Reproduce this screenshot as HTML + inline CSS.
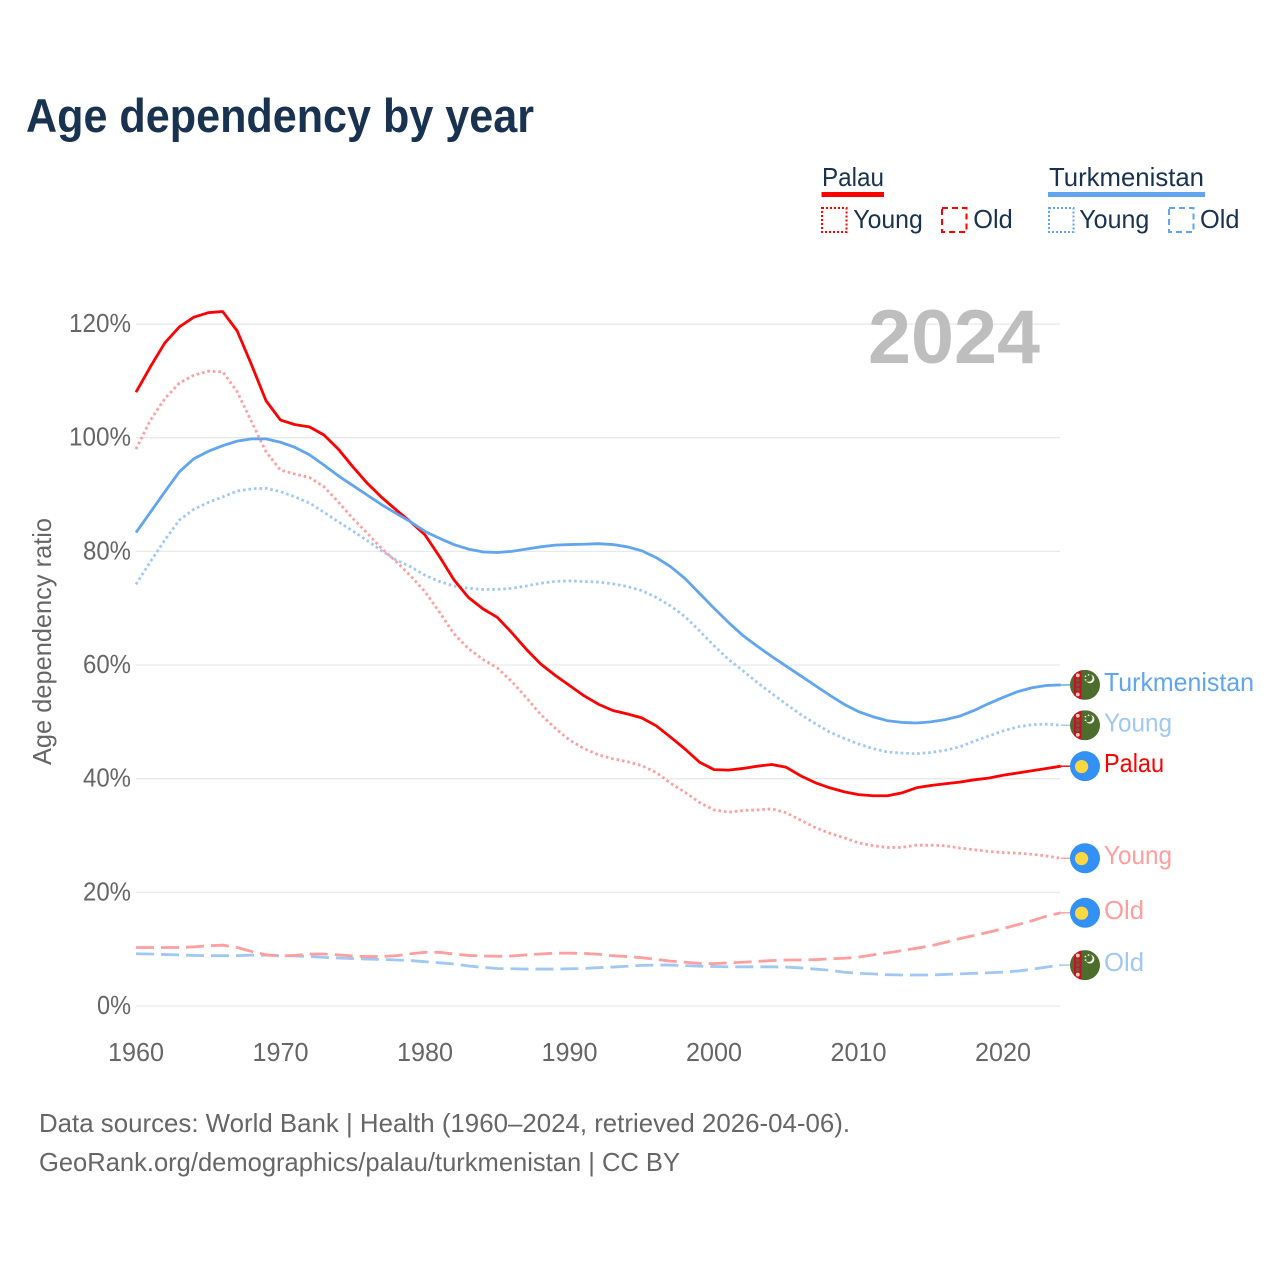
<!DOCTYPE html>
<html lang="en">
<head>
<meta charset="utf-8">
<title>Age dependency by year</title>
<style>
html,body{margin:0;padding:0;background:#fff;}
svg{display:block;font-family:"Liberation Sans",sans-serif;}
</style>
</head>
<body>
<svg id="chart" xmlns="http://www.w3.org/2000/svg" width="1280" height="1280" viewBox="0 0 1280 1280">
  <text x="26" y="132" font-size="47" font-weight="700" fill="#18324f" textLength="508" lengthAdjust="spacingAndGlyphs">Age dependency by year</text>

  <g font-size="26" fill="#18324f">
    <text x="822" y="186" textLength="62" lengthAdjust="spacingAndGlyphs">Palau</text>
    <rect x="821.5" y="192" width="62.5" height="5" fill="#ff0000"/>
    <rect x="822" y="208" width="24.5" height="24" fill="none" stroke="#ff0000" stroke-width="2" stroke-dasharray="2 2"/>
    <text x="853.3" y="228" textLength="69.5" lengthAdjust="spacingAndGlyphs">Young</text>
    <rect x="942" y="208" width="24.5" height="24" fill="none" stroke="#ff0000" stroke-width="2" stroke-dasharray="6 4"/>
    <text x="973.3" y="228" textLength="39.5" lengthAdjust="spacingAndGlyphs">Old</text>

    <text x="1049" y="186" textLength="155" lengthAdjust="spacingAndGlyphs">Turkmenistan</text>
    <rect x="1048" y="192" width="157" height="5" fill="#60a5ee"/>
    <rect x="1049" y="208" width="24.5" height="24" fill="none" stroke="#60a5ee" stroke-width="2" stroke-dasharray="2 2"/>
    <text x="1079.3" y="228" textLength="70" lengthAdjust="spacingAndGlyphs">Young</text>
    <rect x="1169" y="208" width="24.5" height="24" fill="none" stroke="#60a5ee" stroke-width="2" stroke-dasharray="6 4"/>
    <text x="1200" y="228" textLength="39.5" lengthAdjust="spacingAndGlyphs">Old</text>
  </g>

  <g id="grid"></g>
  <g id="yticks" font-size="26" fill="#666666"></g>
  <g id="xticks" font-size="26" fill="#666666"></g>

  <text transform="translate(51,765) rotate(-90)" font-size="26" fill="#666666" textLength="247" lengthAdjust="spacingAndGlyphs">Age dependency ratio</text>

  <text x="868" y="363" font-size="76" font-weight="700" fill="#bebebe" textLength="172" lengthAdjust="spacingAndGlyphs">2024</text>

  <g id="series"></g>
  <g id="endlabels" font-size="26"></g>

  <g font-size="26" fill="#666666">
    <text x="39" y="1132" textLength="811" lengthAdjust="spacingAndGlyphs">Data sources: World Bank | Health (1960–2024, retrieved 2026-04-06).</text>
    <text x="39" y="1171" textLength="641" lengthAdjust="spacingAndGlyphs">GeoRank.org/demographics/palau/turkmenistan | CC BY</text>
  </g>
</svg>

<script>
const years = [1960,1961,1962,1963,1964,1965,1966,1967,1968,1969,1970,1971,1972,1973,1974,1975,1976,1977,1978,1979,
  1980,1981,1982,1983,1984,1985,1986,1987,1988,1989,1990,1991,1992,1993,1994,1995,1996,1997,1998,1999,
  2000,2001,2002,2003,2004,2005,2006,2007,2008,2009,2010,2011,2012,2013,2014,2015,2016,2017,2018,2019,
  2020,2021,2022,2023,2024];

const palauTotal = [108.0,112.5,116.7,119.5,121.2,122.0,122.2,118.8,112.8,106.5,103.1,102.3,101.9,100.5,98.0,94.9,92.0,89.5,87.3,85.2,
  82.9,79.1,75.0,71.9,69.9,68.4,65.7,62.8,60.2,58.2,56.4,54.6,53.1,52.0,51.4,50.7,49.3,47.3,45.2,42.9,
  41.6,41.5,41.8,42.2,42.5,42.0,40.5,39.3,38.4,37.7,37.2,37.0,37.0,37.5,38.4,38.8,39.1,39.4,39.8,40.1,
  40.6,41.0,41.4,41.8,42.2];

const palauYoung = [98.0,103.1,106.9,109.6,111.0,111.7,111.6,108.1,102.8,97.5,94.3,93.6,93.0,91.4,88.7,85.8,83.2,80.5,78.2,75.7,
  72.9,69.3,65.5,62.9,61.0,59.5,57.1,54.3,51.3,48.9,46.8,45.3,44.2,43.5,43.0,42.3,41.1,39.2,37.6,35.8,
  34.5,34.1,34.4,34.5,34.7,34.0,32.7,31.4,30.4,29.6,28.7,28.2,27.9,27.9,28.3,28.3,28.2,27.8,27.5,27.2,
  27.0,26.9,26.7,26.4,26.0];

const palauOld = [10.3,10.3,10.3,10.3,10.4,10.6,10.7,10.3,9.6,9.0,8.8,8.9,9.15,9.15,9.0,8.8,8.7,8.7,8.85,9.2,
  9.45,9.45,9.15,8.9,8.8,8.75,8.8,9.0,9.15,9.3,9.3,9.25,9.1,8.85,8.7,8.5,8.2,7.9,7.7,7.5,
  7.45,7.6,7.7,7.85,8.0,8.1,8.1,8.15,8.3,8.4,8.6,9.0,9.35,9.75,10.15,10.6,11.2,11.85,12.4,13.0,
  13.6,14.3,15.0,15.8,16.4];

const turkmenistanTotal = [83.3,86.9,90.5,94.0,96.3,97.6,98.6,99.4,99.8,99.8,99.2,98.3,97.0,95.2,93.3,91.6,89.9,88.2,86.7,85.2,
  83.5,82.3,81.2,80.4,79.9,79.8,80.0,80.4,80.8,81.1,81.2,81.25,81.35,81.2,80.8,80.1,78.9,77.3,75.2,72.6,
  70.0,67.5,65.2,63.3,61.5,59.8,58.1,56.4,54.7,53.1,51.8,50.9,50.2,49.9,49.8,50.0,50.4,51.0,52.0,53.2,
  54.3,55.3,56.0,56.4,56.5];

const turkmenistanYoung = [74.2,78.2,82.0,85.5,87.4,88.6,89.6,90.6,91.0,91.1,90.5,89.6,88.5,86.9,85.2,83.6,81.9,80.1,78.5,77.3,
  75.8,74.7,73.9,73.5,73.3,73.3,73.5,73.9,74.4,74.7,74.8,74.7,74.6,74.3,73.8,73.1,71.9,70.4,68.5,66.0,
  63.4,61.0,59.0,56.9,55.0,53.1,51.3,49.7,48.2,47.1,46.1,45.3,44.7,44.5,44.4,44.6,45.0,45.6,46.6,47.5,
  48.4,49.1,49.5,49.6,49.4];

const turkmenistanOld = [9.2,9.15,9.05,9.0,8.9,8.85,8.85,8.85,8.95,8.95,8.85,8.8,8.7,8.55,8.45,8.35,8.25,8.2,8.1,8.0,
  7.8,7.6,7.4,7.05,6.8,6.6,6.55,6.5,6.5,6.5,6.55,6.6,6.75,6.85,7.0,7.15,7.2,7.2,7.1,7.0,
  6.95,6.9,6.9,6.9,6.9,6.85,6.7,6.5,6.3,5.95,5.75,5.65,5.5,5.45,5.45,5.45,5.55,5.65,5.75,5.85,
  5.95,6.15,6.45,6.85,7.2];

const yTickValues = [0,20,40,60,80,100,120];
const xTickValues = [1960,1970,1980,1990,2000,2010,2020];

const NS = 'http://www.w3.org/2000/svg';
function xScale(year){ return 136 + (year - 1960) * 14.45; }
function yScale(v){ return 1006 - v * 5.683; }
function make(tag, attrs, parent){
  const el = document.createElementNS(NS, tag);
  for (const k in attrs) el.setAttribute(k, attrs[k]);
  parent.appendChild(el);
  return el;
}

const gridG = document.getElementById('grid');
const yG = document.getElementById('yticks');
yTickValues.forEach(function(v){
  const line = make('line', {x1:136, x2:1060, y1:yScale(v), y2:yScale(v), stroke:'#e9e9e9', 'stroke-width':1.3}, gridG);
  
  
  const s = v + '%';
  const t = make('text', {x:131, y:yScale(v)+8, 'text-anchor':'end', textLength:(s.length-1)*14+20, lengthAdjust:'spacingAndGlyphs'}, yG);
  
  
  t.textContent = s;
});

const xG = document.getElementById('xticks');
xTickValues.forEach(function(v){
  const t = make('text', {x:xScale(v), y:1061, 'text-anchor':'middle', textLength:56, lengthAdjust:'spacingAndGlyphs'}, xG);
  
  
  t.textContent = v;
});

const DOT = '2.6 2.9';
const DASH = '18 7';
const seriesList = [
  {id:'turkmenistan-old', values:turkmenistanOld, color:'#a0c8f3', dash:DASH, label:'Old', flag:'tm'},
  {id:'palau-old', values:palauOld, color:'#ff9e9e', dash:DASH, label:'Old', flag:'pw'},
  {id:'palau-young', values:palauYoung, color:'#ff9e9e', dash:DOT, label:'Young', flag:'pw'},
  {id:'turkmenistan-young', values:turkmenistanYoung, color:'#a0c8f3', dash:DOT, label:'Young', flag:'tm'},
  {id:'palau-total', values:palauTotal, color:'#ff0000', dash:'', label:'Palau', flag:'pw'},
  {id:'turkmenistan-total', values:turkmenistanTotal, color:'#60a5ee', dash:'', label:'Turkmenistan', flag:'tm'}
];
const labelWidths = {Old:40, Young:68, Palau:60, Turkmenistan:150};

const seriesG = document.getElementById('series');
const labelG = document.getElementById('endlabels');
let clipCount = 0;

function drawFlag(kind, cx, cy, parent){
  const g = make('g', {}, parent);
  
  
  if (kind === 'pw') {
    make('circle', {cx:cx, cy:cy, r:15, fill:'#3390f5'}, g);
    make('circle', {cx:cx-3.4, cy:cy+0.4, r:6.6, fill:'#ffd740'}, g);
    return;
  }
  clipCount += 1;
  const cid = 'flag-clip-' + clipCount;
  const cp = make('clipPath', {id:cid}, g);
  make('circle', {cx:cx, cy:cy, r:15}, cp);
  const inner = make('g', {'clip-path':'url(#' + cid + ')'}, g);
  make('rect', {x:cx-15, y:cy-15, width:30, height:30, fill:'#4d6d2c'}, inner);
  make('rect', {x:cx-11, y:cy-15, width:7.6, height:30, fill:'#c8102e'}, inner);
  [-9.5,-4.5,0,4.5,9.5].forEach(function(d, i){
    make('circle', {cx:cx-7.2, cy:cy+d, r:1.9, fill:(i === 0 || i === 4) ? '#f6d9a0' : '#6f5a30'}, inner);
  });
  make('circle', {cx:cx+5, cy:cy-6, r:4.4, fill:'#f2f2e8'}, inner);
  make('circle', {cx:cx+3.6, cy:cy-7, r:3.9, fill:'#4d6d2c'}, inner);
  make('circle', {cx:cx+0.5, cy:cy-8.5, r:0.9, fill:'#e8eadf'}, inner);
  make('circle', {cx:cx+3.5, cy:cy-10, r:0.9, fill:'#e8eadf'}, inner);
  make('circle', {cx:cx+0.5, cy:cy-5, r:0.9, fill:'#e8eadf'}, inner);
}

seriesList.forEach(function(s){
  const pts = s.values.map(function(v, i){
    return xScale(years[i]).toFixed(2) + ',' + yScale(v).toFixed(2);
  }).join(' ');
  const attrs = {points:pts, fill:'none', stroke:s.color, 'stroke-width':2.8, 'stroke-linejoin':'round'};
  if (s.dash) attrs['stroke-dasharray'] = s.dash;
  const line = make('polyline', attrs, seriesG);
  
  

  const last = s.values[s.values.length - 1];
  const lx = xScale(years[years.length - 1]);
  const ly = yScale(last);
  const conn = make('line', {x1:lx, x2:1071, y1:ly, y2:ly, stroke:s.color, 'stroke-width':1.4}, labelG);
  
  
  drawFlag(s.flag, 1085, ly, labelG);
  const t = make('text', {x:1104, y:ly+6, fill:s.color, textLength:labelWidths[s.label], lengthAdjust:'spacingAndGlyphs'}, labelG);
  
  
  t.textContent = s.label;
});
</script>
</body>
</html>
